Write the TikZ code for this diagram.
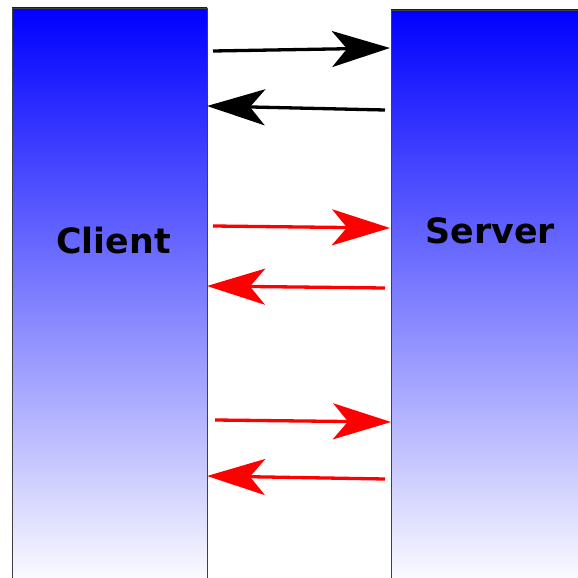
\documentclass[tikz,border=0pt]{standalone}
\usepackage{fontspec}
\setmainfont{DejaVu Sans}
\usetikzlibrary{arrows.meta}
\tikzset{
  panel/.style={draw=black!75, line width=0.8pt, top color=blue, bottom color=white},
  label/.style={font=\fontsize{34.8}{40}\selectfont\bfseries, anchor=base, inner sep=0pt},
  msg/.style={line width=3.3pt, -{Stealth[length=58pt,width=36pt,inset=15pt]}},
}
\begin{document}
\begin{tikzpicture}[x=1pt,y=-1pt]
\clip (0,0) rectangle (578,578);
\fill[white] (0,0) rectangle (578,578);
\path[panel] (12,8) rectangle (207,590);
\path[panel] (391,10) rectangle (590,590);
\node[label] (client) at (113.5,253) {Client};
\node[label] (server) at (490.5,243) {Server};
\coordinate (a1s) at (213,51);  \coordinate (a1e) at (390,48);
\coordinate (a2s) at (385,110); \coordinate (a2e) at (207,106);
\coordinate (a3s) at (213,226); \coordinate (a3e) at (390,228);
\coordinate (a4s) at (385,288); \coordinate (a4e) at (207,286);
\coordinate (a5s) at (215,420); \coordinate (a5e) at (391,422);
\coordinate (a6s) at (385,479); \coordinate (a6e) at (207,476);
\draw[msg, black] (a1s) -- (a1e);
\draw[msg, black] (a2s) -- (a2e);
\draw[msg, red] (a3s) -- (a3e);
\draw[msg, red] (a4s) -- (a4e);
\draw[msg, red] (a5s) -- (a5e);
\draw[msg, red] (a6s) -- (a6e);
\end{tikzpicture}
\end{document}
